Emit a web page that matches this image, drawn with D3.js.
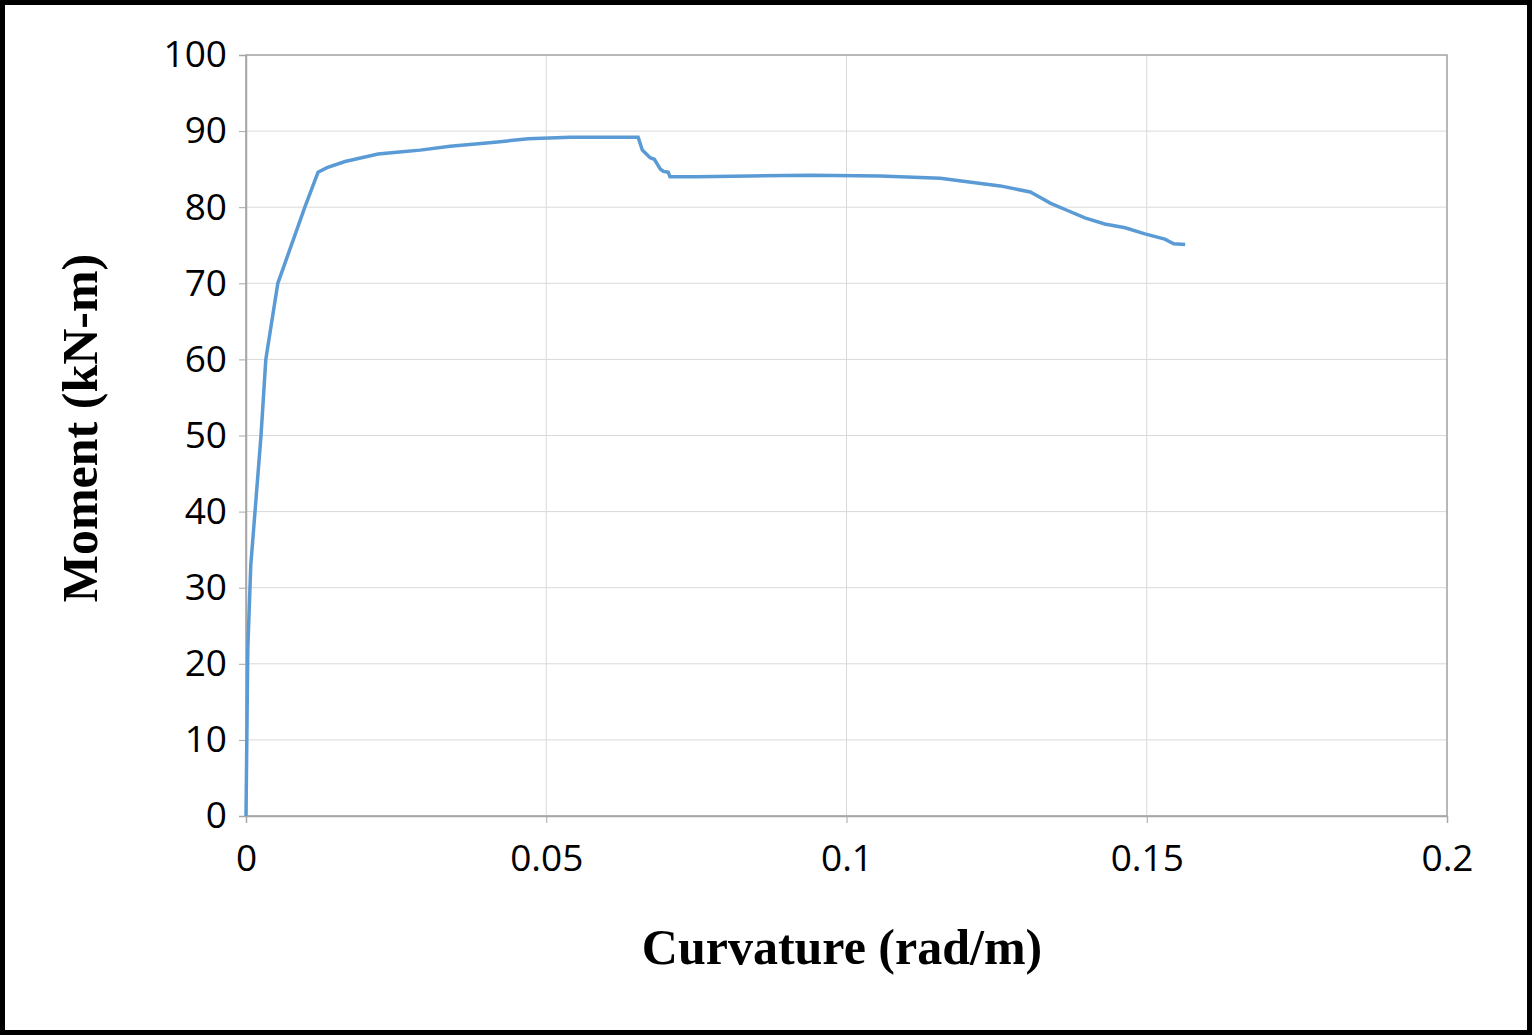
<!DOCTYPE html>
<html><head><meta charset="utf-8">
<script src="https://cdn.jsdelivr.net/npm/d3@7/dist/d3.min.js"></script>
<style>body{margin:0;background:#fff}</style></head>
<body><svg id="c" width="1532" height="1035"></svg>
<script>
const curvature=[0,0.0003,0.0008,0.0015,0.0025,0.0033,0.0043,0.0053,0.0062,0.0098,0.012,0.0135,0.0165,0.022,0.026,0.029,0.034,0.041,0.047,0.054,0.0653,0.066,0.0673,0.068,0.069,0.0695,0.0703,0.0706,0.075,0.084,0.094,0.1056,0.1156,0.1214,0.1256,0.1306,0.1322,0.134,0.137,0.1397,0.143,0.1464,0.1497,0.153,0.1545,0.1564];
const moment=[0,22,33,40,50,60,65,70,72,80,84.6,85.2,86,87,87.3,87.5,88,88.5,89,89.2,89.2,87.5,86.5,86.3,85,84.7,84.6,84,84,84.1,84.2,84.1,83.8,83.2,82.8,82,81.3,80.5,79.5,78.6,77.8,77.3,76.5,75.8,75.2,75.1];
const xTicks=[0,0.05,0.1,0.15,0.2];
const yTicks=[0,10,20,30,40,50,60,70,80,90,100];
const svg=d3.select("#c");
svg.append("rect").attr("x",2.5).attr("y",2.5).attr("width",1527).attr("height",1030).attr("fill","#fff").attr("stroke","#000").attr("stroke-width",5);
const x=d3.scaleLinear().domain([0,0.2]).range([246,1447]);
const y=d3.scaleLinear().domain([0,100]).range([816,55]);
const g=svg.append("g");
g.selectAll(".gx").data(xTicks).join("line").attr("x1",d=>x(d)).attr("x2",d=>x(d)).attr("y1",55).attr("y2",816).attr("stroke","#d9d9d9").attr("stroke-width",1);
g.selectAll(".gy").data(yTicks).join("line").attr("y1",d=>y(d)).attr("y2",d=>y(d)).attr("x1",246).attr("x2",1447).attr("stroke","#d9d9d9").attr("stroke-width",1);
g.append("rect").attr("x",246).attr("y",55).attr("width",1201).attr("height",761).attr("fill","none").attr("stroke","#a6a6a6").attr("stroke-width",1.5);
const xa=svg.append("g").attr("transform","translate(0,816)").call(d3.axisBottom(x).tickValues(xTicks).tickFormat(d=>String(d)).tickSize(7).tickPadding(20));
const ya=svg.append("g").attr("transform","translate(246,0)").call(d3.axisLeft(y).tickValues(yTicks).tickSize(7).tickPadding(12));
[xa,ya].forEach(a=>{a.select(".domain").attr("stroke","#a6a6a6").attr("stroke-width",1.5);a.selectAll(".tick line").attr("stroke","#a6a6a6");a.selectAll("text").attr("font-family","'Open Sans', sans-serif").attr("font-size",37).attr("fill","#000");});
xa.selectAll("text").attr("dy","0.75em");
const line=d3.line().x((d,i)=>x(curvature[i])).y(d=>y(d));
svg.append("path").datum(moment).attr("d",line).attr("fill","none").attr("stroke","#5b9bd5").attr("stroke-width",3.5);
svg.append("text").attr("x",842).attr("y",964).attr("text-anchor","middle").attr("font-family","'Liberation Serif',serif").attr("font-weight","bold").attr("font-size",50).text("Curvature (rad/m)");
svg.append("text").attr("transform","translate(97,428) rotate(-90)").attr("text-anchor","middle").attr("font-family","'Liberation Serif',serif").attr("font-weight","bold").attr("font-size",50).text("Moment (kN-m)");
</script></body></html>
